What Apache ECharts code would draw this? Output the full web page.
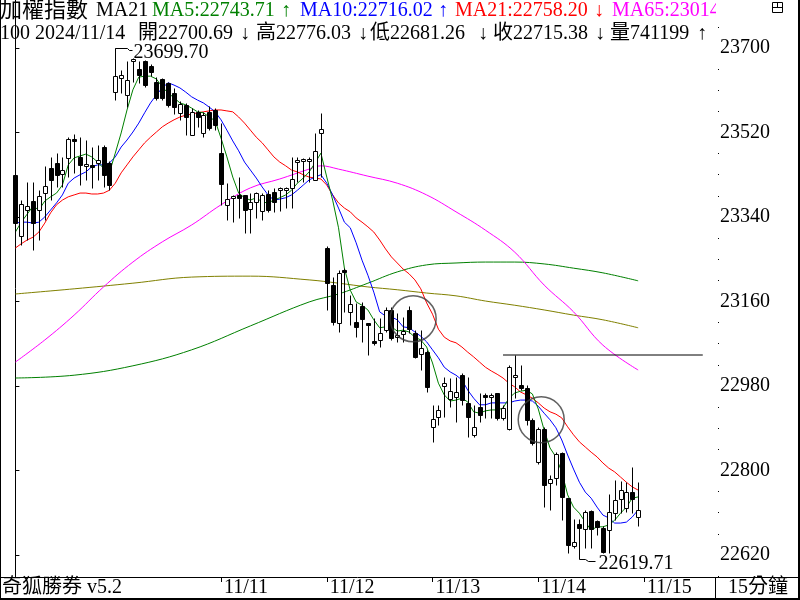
<!DOCTYPE html>
<html><head><meta charset="utf-8">
<script src="https://cdn.jsdelivr.net/npm/echarts@6/dist/echarts.min.js"></script>
<style>html,body{margin:0;padding:0;background:#fff}#c{width:800px;height:600px}</style>
</head><body><div id="c"></div>
<script>
// ---------- data ----------
const dayLabels = ['11/11','11/12','11/13','11/14','11/15'];
const dayStartIdx = [35,53,71,89,107];
const yTicks = [22620,22800,22980,23160,23340,23520,23700];
const minorTicks = [22575,22665,22710,22755,22845,22890,22935,23025,23070,23115,23205,23250,23295,23385,23430,23475,23565,23610,23655,23745,23790];

const opens  = [23430,23300,23355,23374,23355,23391,23444,23455,23432,23466,23506,23468,23449,23451,23455,23489,23455,
 23606,23636,23600,23672,23655,23672,23662,23628,23634,23626,23604,23562,23579,23515,23564,23519,23564,23568,
 23476,23366,23381,23387,23387,23357,23372,23353,23389,23393,23397,23397,23402,23457,23459,23459,23419,23519,
 23274,23195,23114,23227,23138,23116,23150,23114,23076,23078,23099,23142,23084,23091,23142,23093,23048,23052,
 22893,22914,22980,22952,22957,23003,22944,22876,22935,22961,22957,22965,22912,22888,22999,22982,22976,22908,
 22818,22888,22773,22784,22837,22741,22639,22686,22675,22714,22692,22677,22673,22709,22739,22720,22754,22700.69];
const highs  = [23434,23376,23415,23415,23397,23449,23468,23476,23468,23510,23517,23510,23504,23489,23493,23493,23459,
 23699.70,23653,23672,23679,23672,23674,23666,23638,23636,23628,23615,23587,23583,23572,23568,23564,23576,23572,
 23540,23412,23387,23425,23387,23391,23393,23391,23397,23402,23404,23404,23468,23468,23466,23468,23519,23562,
 23278,23212,23227,23231,23174,23157,23159,23114,23125,23125,23148,23148,23135,23127,23150,23099,23099,23057,
 22940,22940,22999,22997,22999,23008,22999,22940,22965,22965,22965,22965,22940,23025,23046,23025,22982,22912,
 22893,22893,22790,22839,22839,22741,22697,22697,22716,22716,22695,22682,22750,22780,22778,22776,22807,22776.03];
const lows   = [23291,23280,23291,23270,23291,23334,23376,23404,23404,23425,23434,23408,23419,23402,23419,23404,23397,
 23589,23604,23574,23628,23626,23617,23640,23589,23589,23574,23559,23547,23515,23515,23532,23510,23525,23525,
 23366,23334,23329,23338,23306,23306,23338,23334,23351,23351,23353,23359,23359,23415,23415,23415,23419,23425,
 23142,23110,23095,23138,23110,23084,23074,23046,23067,23063,23095,23078,23074,23074,23093,23040,23014,22967,
 22861,22897,22914,22935,22903,22940,22871,22871,22903,22912,22912,22908,22908,22886,22954,22971,22897,22854,
 22814,22722,22716,22769,22695,22624,22635,22619.71,22635,22635,22662,22624,22624,22695,22709,22712,22709,22681.26];
const closes = [23327,23368,23363,23327,23385,23406,23419,23430,23440,23506,23502,23451,23453,23447,23461,23430,23408,
 23640,23642,23632,23677,23642,23621,23649,23593,23593,23579,23574,23581,23553,23564,23553,23557,23530,23536,
 23410,23378,23385,23381,23355,23372,23391,23387,23355,23372,23402,23402,23421,23461,23463,23463,23481,23528,
 23199,23116,23221,23223,23155,23106,23123,23110,23072,23093,23142,23082,23089,23097,23101,23042,23061,22978,
 22910,22929,22986,22969,22967,22950,22914,22893,22918,22957,22961,22912,22933,23020,23003,22976,22908,22859,
 22888,22769,22782,22835,22744,22641,22648,22677,22712,22675,22680,22626,22712,22737,22758,22754,22739,22715.38];

const ma5 = [23308,23329,23346,23363,23355,23374,23383,23391,23408,23451,
 23466,23470,23474,23468,23457,23444,23434,23476,23519,23568,
 23611,23638,23640,23640,23634,23617,23604,23594,23583,23579,
 23572,23564,23562,23553,23545,23508,23468,23425,23391,23381,
 23376,23381,23372,23370,23376,23381,23387,23397,23412,23423,
 23436,23455,23476,23425,23376,23317,23231,23184,23159,23152,
 23142,23121,23104,23106,23106,23097,23099,23095,23084,23078,
 23063,23029,22986,22961,22948,22950,22954,22946,22925,22922,
 22927,22929,22929,22933,22954,22965,22969,22971,22963,22931,
 22886,22848,22829,22797,22748,22722,22709,22690,22673,22680,
 22680,22684,22694,22709,22722,22741,22743.71];
const ma10 = [23327,23329,23329,23327,23329,23340,23355,23370,23387,23412,
 23423,23430,23436,23447,23451,23451,23455,23468,23489,23504,
 23521,23540,23562,23583,23600,23615,23626,23621,23615,23606,
 23596,23589,23583,23574,23564,23547,23525,23502,23481,23457,
 23440,23423,23404,23387,23376,23378,23381,23387,23397,23408,
 23419,23425,23430,23412,23387,23359,23329,23317,23285,23248,
 23216,23180,23138,23129,23127,23121,23106,23104,23095,23086,
 23074,23057,23040,23020,23010,23003,22993,22971,22954,22940,
 22940,22944,22944,22944,22944,22948,22950,22950,22948,22937,
 22922,22908,22891,22865,22833,22803,22775,22754,22741,22722,
 22705,22699,22688,22688,22690,22701,22716.02];
const ma21 = [23274,23283,23291,23297,23308,23327,23349,23366,23376,23383,
 23387,23391,23391,23389,23389,23391,23397,23412,23434,23451,
 23468,23483,23498,23510,23521,23532,23540,23547,23553,23557,
 23559,23562,23564,23566,23568,23568,23566,23564,23553,23540,
 23525,23510,23498,23483,23468,23457,23449,23440,23436,23430,
 23425,23423,23421,23408,23387,23370,23359,23351,23338,23329,
 23319,23308,23291,23272,23255,23242,23229,23219,23206,23187,
 23157,23133,23101,23084,23076,23072,23063,23052,23042,23031,
 23020,23012,23005,22997,22986,22978,22967,22961,22954,22944,
 22933,22925,22920,22912,22893,22876,22861,22850,22839,22829,
 22816,22805,22797,22786,22775,22765,22758.20];
// long averages read at sample bars: [bar, value]
const ma65 = [[0,23031],[5,23078],[10,23131],[15,23191],[20,23244],[25,23287],[30,23323],[35,23366],[40,23402],[45,23421],[50,23442],[52,23449],[55,23442],[60,23427],[65,23412],[70,23387],[75,23351],[80,23312],[85,23265],[90,23195],[95,23138],[100,23067],[106,23014]];
const maLongGreen = [[0,22997],[10,23003],[20,23023],[30,23057],[40,23108],[50,23159],[55,23176],[60,23199],[65,23223],[70,23238],[75,23242],[80,23244],[85,23244],[90,23240],[95,23231],[100,23221],[106,23204]];
const maLongOlive = [[0,23176],[10,23187],[20,23199],[30,23212],[40,23214],[50,23206],[55,23199],[60,23191],[65,23185],[70,23178],[75,23172],[80,23161],[85,23152],[90,23142],[95,23131],[100,23121],[106,23104]];
const resistanceLine = [[83,23046],[117,23046]];
const circleMarks = [[67.7,23123],[89.5,22908]];
const extremes = [[17,23699.70],[96,22619.71]];

// ---------- chart ----------
const FONT = '"Liberation Serif","Noto Sans CJK TC",serif';
const chart = echarts.init(document.getElementById('c'), null, {renderer:'canvas'});
const X0 = -2.621, X1 = 119.08, Y0 = 22573.1, Y1 = 23802.25;

function renderCandle(params, api){
  const i = api.value(0), o = api.value(1), c = api.value(2), l = api.value(3), h = api.value(4);
  const pO = api.coord([i,o]), pC = api.coord([i,c]), pH = api.coord([i,h]), pL = api.coord([i,l]);
  const x = Math.round(pO[0]) + 0.5;
  const yO = Math.round(pO[1]) + 0.5, yC = Math.round(pC[1]) + 0.5;
  const yH = Math.round(pH[1]) + 0.5, yL = Math.round(pL[1]) + 0.5;
  const top = Math.min(yO,yC), bot = Math.max(yO,yC);
  const up = c >= o;
  const ls = {stroke:'#000', lineWidth:1};
  const ch = [
    {type:'line', shape:{x1:x,y1:yH,x2:x,y2:top}, style:ls},
    {type:'line', shape:{x1:x,y1:bot,x2:x,y2:yL}, style:ls}
  ];
  if (bot - top < 1) ch.push({type:'line', shape:{x1:x-2,y1:top,x2:x+2,y2:top}, style:ls});
  else ch.push({type:'rect', shape:{x:x-2,y:top,width:4,height:bot-top}, style:{fill: up?'#fff':'#000', stroke:'#000', lineWidth:1}});
  return {type:'group', children:ch};
}
function renderExtreme(params, api){
  const i = api.value(0), v = api.value(1);
  const p = api.coord([i,v]);
  const x = Math.round(p[0]) + 0.5, y = Math.round(p[1]) + 0.5;
  const ls = {stroke:'#000', lineWidth:1, fill:null};
  let pts, tx, ty;
  if (params.dataIndex === 0) { pts = [[x,y+6],[x,y],[x+12,y],[x+14,y+2],[x+17,y+2]]; tx = x+18; ty = y+4; }
  else { pts = [[x,y-2],[x,y+4],[x+6,y+4],[x+9,y+6],[x+16,y+6]]; tx = x+19; ty = y+8; }
  return {type:'group', children:[
    {type:'polyline', shape:{points:pts}, style:ls},
    {type:'text', style:{text: v.toFixed(2), x:tx, y:ty, fill:'#000', font:'20px '+FONT, verticalAlign:'middle', textVerticalAlign:'middle'}}
  ]};
}
const lineS = (data, color, extra) => Object.assign({type:'line', data, showSymbol:false, symbol:'none', lineStyle:{color, width:1}, silent:true, animation:false, z:2}, extra||{});
const idx = a => a.map((v,i)=>[i,v]);

// header segments
const hdr1 = [['加權指數',0,'#000'],['MA21',96,'#000'],['MA5:22743.71',152,'#008000'],['↑',281,'#008000'],['MA10:22716.02',300,'#0000ff'],['↑',438,'#0000ff'],['MA21:22758.20',455,'#ff0000'],['↓',594,'#ff0000'],['MA65:23014.55',612,'#ff00ff']];
const hdr2 = [['100 2024/11/14',0],['開22700.69',138],['↓',240],['高22776.03',256],['↓',358],['低22681.26',370],['↓',478],['收22715.38',493],['↓',595],['量741199',610],['↑',697]];
const graphics = [];
hdr1.forEach(s=>graphics.push({type:'text', style:{text:s[0], x:s[1], y:11, fill:s[2], font:(/[\u4e00-\u9fff]/.test(s[0])?'22px ':'20px ')+FONT, verticalAlign:'middle', textVerticalAlign:'middle'}}));
hdr2.forEach(s=>graphics.push({type:'text', style:{text:s[0], x:s[1], y:34, fill:'#000', font:'20px '+FONT, verticalAlign:'middle', textVerticalAlign:'middle'}}));
graphics.push({type:'rect', shape:{x:716,y:0,width:82,height:24}, style:{fill:'#fff'}, z:10});
graphics.push({type:'rect', shape:{x:772.5,y:2.5,width:10,height:10}, style:{fill:null, stroke:'#000', lineWidth:1}, z:11});
graphics.push({type:'line', shape:{x1:772.5,y1:7.5,x2:782.5,y2:7.5}, style:{stroke:'#000', lineWidth:1}, z:11});
graphics.push({type:'line', shape:{x1:777.5,y1:2.5,x2:777.5,y2:7.5}, style:{stroke:'#000', lineWidth:1}, z:11});
// bottom strip / frame
graphics.push({type:'line', shape:{x1:715,y1:577.5,x2:800,y2:577.5}, style:{stroke:'#000', lineWidth:1}, z:11});
graphics.push({type:'line', shape:{x1:715.5,y1:577,x2:715.5,y2:600}, style:{stroke:'#000', lineWidth:1}, z:11});
graphics.push({type:'line', shape:{x1:0.5,y1:0,x2:0.5,y2:600}, style:{stroke:'#000', lineWidth:1}, z:11});
graphics.push({type:'rect', shape:{x:0,y:598,width:800,height:2}, style:{fill:'#000'}, z:11});
graphics.push({type:'rect', shape:{x:798,y:0,width:2,height:600}, style:{fill:'#000'}, z:11});
graphics.push({type:'text', style:{text:'奇狐勝券 v5.2', x:2, y:588, fill:'#000', font:'20px '+FONT, verticalAlign:'middle', textVerticalAlign:'middle'}, z:11});
graphics.push({type:'text', style:{text:'15分鐘', x:728, y:588, fill:'#000', font:'20px '+FONT, verticalAlign:'middle', textVerticalAlign:'middle'}, z:11});

chart.setOption({
  animation:false,
  backgroundColor:'#fff',
  grid:{left:0, right:85, top:0, bottom:23, containLabel:false, outerBoundsMode:'none'},
  xAxis:{type:'value', min:X0, max:X1, splitLine:{show:false},
    axisLine:{show:true, onZero:false, lineStyle:{color:'#000', width:1}},
    axisTick:{show:true, customValues:dayStartIdx, length:5, lineStyle:{color:'#000'}},
    axisLabel:{show:true, customValues:dayStartIdx.map(i=>i+0.5), margin:1, align:'left', verticalAlign:'top',
      color:'#000', fontFamily:FONT, fontSize:20,
      formatter:v=>dayLabels[dayStartIdx.indexOf(Math.round(v-0.5))] || ''}},
  yAxis:[
    {type:'value', min:Y0, max:Y1, position:'right', splitLine:{show:false}, scale:true,
      axisLine:{show:true, lineStyle:{color:'#000', width:1}},
      axisTick:{show:true, customValues:yTicks, length:4, lineStyle:{color:'#000'}},
      axisLabel:{show:true, customValues:yTicks, margin:5, color:'#000', fontFamily:FONT, fontSize:20, align:'left',
        formatter:v=>String(Math.round(v))}},
    {type:'value', min:Y0, max:Y1, position:'right', offset:3, splitLine:{show:false}, scale:true,
      axisLine:{show:false},
      axisTick:{show:true, customValues:minorTicks, length:1, lineStyle:{color:'#000'}},
      axisLabel:{show:false}}
  ],
  series:[
    lineS(maLongOlive, '#808000', {smooth:0.4}),
    lineS(maLongGreen, '#008000', {smooth:0.4}),
    lineS(ma65, '#ff00ff', {smooth:0.4}),
    lineS(idx(ma21), '#ff0000'),
    lineS(idx(ma10), '#0000ff'),
    lineS(idx(ma5), '#008000'),
    lineS(resistanceLine, '#000', {z:3}),
    {type:'custom', renderItem:renderCandle, data:opens.map((o,i)=>[i,o,closes[i],lows[i],highs[i]]),
      encode:{x:0, y:[1,2,3,4]}, silent:true, animation:false, z:4, clip:false},
    {type:'scatter', data:circleMarks, symbol:'circle', symbolSize:46, silent:true, animation:false, z:5,
      itemStyle:{color:'rgba(0,0,0,0)', borderColor:'#3a3a3a', borderWidth:1.5}},
    {type:'custom', renderItem:renderExtreme, data:extremes, encode:{x:0,y:1}, silent:true, animation:false, z:6, clip:false}
  ],
  graphic:graphics
});
</script></body></html>
